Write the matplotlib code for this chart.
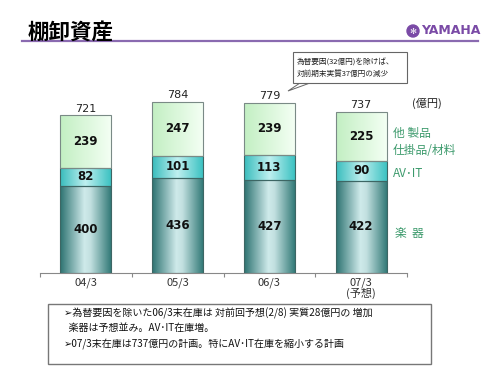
import numpy as np
import matplotlib.pyplot as plt
from matplotlib.colors import LinearSegmentedColormap
from matplotlib.patches import Rectangle, Ellipse, Polygon

plt.rcParams['font.family'] = ['Noto Sans CJK JP', 'DejaVu Sans']

# data
categories = ['04/3', '05/3', '06/3', '07/3\n(予想)']
gakki = [400, 436, 427, 422]     # 楽器
avit = [82, 101, 113, 90]        # AV・IT
other = [239, 247, 239, 225]     # 他 製品 仕掛品/材料
totals = [721, 784, 779, 737]

notes = ['➢為替要因を除いた06/3末在庫は 対前回予想(2/8) 実質28億円の 増加',
         '  楽器は予想並み。AV･IT在庫増。',
         '➢07/3末在庫は737億円の計画。特にAV･IT在庫を縮小する計画']
callout = ['為替要因(32億円)を除けば、', '対前期末実質37億円の減少']

W, H = 500, 375
fig = plt.figure(figsize=(5, 3.75), dpi=100)
ax = fig.add_axes([40 / W, 1 - 273 / H, 367 / W, 188 / H])

# gradient colormaps
cm_bottom = LinearSegmentedColormap.from_list('b', [(0, '#2c7270'), (0.48, '#cfeaea'),
                                                    (0.6, '#c2e0e0'), (1, '#347a78')])
cm_mid = LinearSegmentedColormap.from_list('m', [(0, '#38bcbc'), (0.5, '#bff0f0'), (1, '#3cc2c2')])
cm_top = LinearSegmentedColormap.from_list('t', [(0, '#c2efc2'), (1, '#f4fff4')])

x = np.arange(len(categories))
w = 0.555
b1 = ax.bar(x, gakki, w, facecolor='none', edgecolor='#3d6664', lw=0.8, zorder=3)
bot2 = np.array(gakki)
b2 = ax.bar(x, avit, w, bottom=bot2, facecolor='none', edgecolor='#3d6664', lw=0.8, zorder=3)
bot3 = bot2 + np.array(avit)
b3 = ax.bar(x, other, w, bottom=bot3, facecolor='none', edgecolor='#7a8a86', lw=0.8, zorder=3)

grad = np.linspace(0, 1, 256).reshape(1, -1)
for bars, cmap in [(b1, cm_bottom), (b2, cm_mid), (b3, cm_top)]:
    for p in bars:
        x0, y0 = p.get_x(), p.get_y()
        im = ax.imshow(grad, cmap=cmap, aspect='auto', zorder=2,
                       extent=[x0, x0 + p.get_width(), y0, y0 + p.get_height()])
        im.set_clip_path(p)

ax.set_xlim(-0.5, 3.5)
ax.set_ylim(0, 860)

# labels in segments
seg_font = dict(ha='center', va='center', fontsize=8.5, fontweight='bold',
                color='#111111', zorder=4, family='DejaVu Sans')
for i in range(len(x)):
    ax.text(x[i], gakki[i] / 2, str(gakki[i]), **seg_font)
    ax.text(x[i], bot2[i] + avit[i] / 2, str(avit[i]), **seg_font)
    ax.text(x[i], bot3[i] + other[i] / 2, str(other[i]), **seg_font)
    ax.text(x[i], totals[i] + 8, str(totals[i]), ha='center', va='bottom', fontsize=8,
            color='#222222', zorder=4, family='DejaVu Sans')

for s in ['top', 'right', 'left']:
    ax.spines[s].set_visible(False)
ax.spines['bottom'].set_color('#888888')
ax.set_yticks([])
ax.set_xticks([-0.5, 0.5, 1.5, 2.5, 3.5])
ax.set_xticklabels([])
ax.tick_params(axis='x', length=3, color='#888888')
for i, c in enumerate(categories):
    ax.text(x[i], -22, c, ha='center', va='top', fontsize=8, color='#333333',
            linespacing=1.0)

# series labels on the right
green = '#3c9a6c'
fig.text(393 / W, 1 - 133 / H, '他 製品', fontsize=8.5, color=green, va='center')
fig.text(393 / W, 1 - 150 / H, '仕掛品/材料', fontsize=8.5, color=green, va='center')
fig.text(393 / W, 1 - 173 / H, 'AV･IT', fontsize=8.5, color=green, va='center')
fig.text(395 / W, 1 - 234 / H, '楽  器', fontsize=8.5, color=green, va='center')
fig.text(412 / W, 1 - 103 / H, '(億円)', fontsize=8, color='#222222', va='center')

# title and header line
fig.text(28 / W, 1 - 32 / H, '棚卸資産', fontsize=15.5, fontweight='bold', va='center')
fig.add_artist(plt.Line2D([22 / W, 478 / W], [1 - 41 / H, 1 - 41 / H], color='#8a6ab0', lw=1.6))
purple = '#7a4aa6'
fig.add_artist(Ellipse((413 / W, 1 - 31 / H), 12 / W, 12 / H, color=purple))
fig.text(413 / W, 1 - 31 / H, '✻', fontsize=6, color='white', ha='center', va='center',
         family='DejaVu Sans')
fig.text(421 / W, 1 - 31 / H, 'YAMAHA', fontsize=9, fontweight='bold', color=purple,
         va='center', family='DejaVu Sans')

# callout
fig.add_artist(Polygon([(300 / W, 1 - 83 / H), (288 / W, 1 - 91 / H), (310 / W, 1 - 83 / H)],
                       closed=True, facecolor='white', edgecolor='#666666', lw=0.7))
fig.add_artist(Rectangle((293 / W, 1 - 83 / H), 114 / W, 31 / H, facecolor='white',
                         edgecolor='#666666', lw=0.8))
fig.text(297 / W, 1 - 63 / H, callout[0], fontsize=5.5, va='center', color='#222222')
fig.text(297 / W, 1 - 74 / H, callout[1], fontsize=5.5, va='center', color='#222222')

# note box
fig.add_artist(Rectangle((48 / W, 1 - 364 / H), 383 / W, 60 / H, facecolor='white',
                         edgecolor='#777777', lw=1.0))
for j, ypx in enumerate([313, 328, 344]):
    fig.text(64 / W, 1 - ypx / H, notes[j], fontsize=7.2, va='center', color='#111111',
             family=['Noto Sans CJK JP', 'DejaVu Sans'])

fig.savefig('out.png', dpi=100)
